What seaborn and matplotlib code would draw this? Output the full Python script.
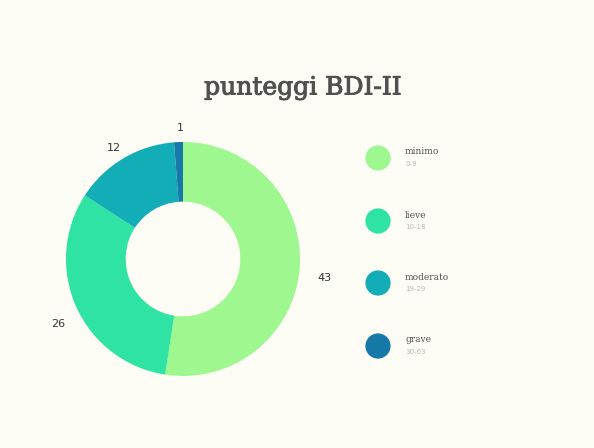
import matplotlib
matplotlib.use("Agg")
import matplotlib.pyplot as plt
import matplotlib.patheffects as pe
import seaborn as sns
import pandas as pd

# dati
categorie = ["minimo", "lieve", "moderato", "grave"]
intervalli = ["0-9", "10-18", "19-29", "30-63"]
valori = [43, 26, 12, 1]
colori = ["#9ef78f", "#2fe3a4", "#12adb6", "#1779a8"]

sns.set_theme(style="white")
plt.rcParams["font.family"] = ["DejaVu Sans"]
bg = "#fdfdf5"

fig = plt.figure(figsize=(5.94, 4.48), dpi=100, facecolor=bg)

# ciambella
W, H = 594, 448
cx, cy, r = 183, 259, 117
ax = fig.add_axes([(cx - r) / W, 1 - (cy + r) / H, 2 * r / W, 2 * r / H])
ax.set_facecolor(bg)
wedges, testi = ax.pie(valori, colors=colori, startangle=90, counterclock=False,
                       labels=[str(v) for v in valori], labeldistance=1.19,
                       wedgeprops=dict(width=0.51, edgecolor="none"),
                       textprops=dict(fontsize=8, color="#333333"))
for t in testi:
    x, y = t.get_position()
    t.set_position((x + 0.02, y - 0.07))
    t.set_ha("center")
    t.set_va("center")
ax.set_xlim(-1, 1)
ax.set_ylim(-1, 1)
ax.axis("off")

# titolo e legenda
ov = fig.add_axes([0, 0, 1, 1])
ov.patch.set_alpha(0)
ov.text(303, 88, "punteggi BDI-II", fontsize=18, family="DejaVu Serif",
        color="#505050", ha="center", va="center",
        path_effects=[pe.withStroke(linewidth=0.7, foreground="#505050")])

leg = pd.DataFrame({"x": [378] * 4, "y": [158, 221, 283, 346], "cat": categorie})
sns.scatterplot(data=leg, x="x", y="y", hue="cat", palette=colori, s=330,
                edgecolor="none", legend=False, ax=ov)
ov.set_xlim(0, W)
ov.set_ylim(H, 0)
ov.axis("off")
for i, (c, rng) in enumerate(zip(categorie, intervalli)):
    y = leg["y"][i]
    ov.text(405, y - 6, c, fontsize=6.5, family="DejaVu Serif",
            color="#505050", ha="left", va="center")
    ov.text(405, y + 6, rng, fontsize=5, color="#bbbbbb", ha="left", va="center")

fig.savefig("out.png", dpi=100, facecolor=bg)
